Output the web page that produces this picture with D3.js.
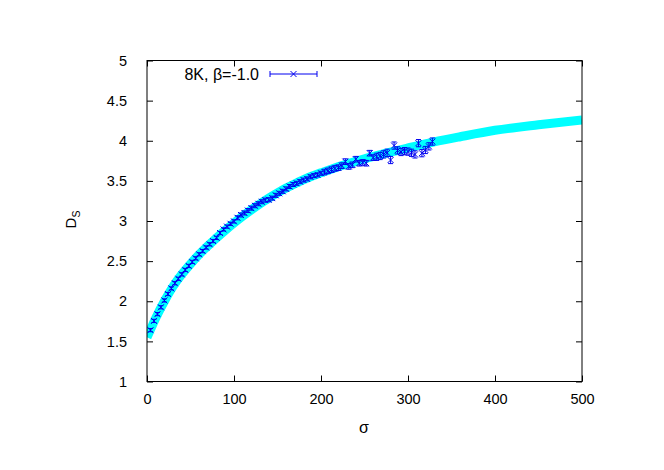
<!DOCTYPE html>
<html>
<head>
<meta charset="utf-8">
<script src="https://cdn.jsdelivr.net/npm/d3@7/dist/d3.min.js"></script>
<style>
  body { margin: 0; background: #fff; }
  text { font-family: "Liberation Sans", Arial, sans-serif; }
</style>
</head>
<body>
<svg id="chart" width="664" height="470"></svg>
<script>
// ---- data ----
const sigma = [4,8,12,16,20,24,28,32,36,40,44,48,52,56,60,64,68,72,76,80,
  84,88,92,96,100,104,108,112,116,120,124,128,132,136,140,144,148,152,156,160,
  164,168,172,176,180,184,188,192,196,200,204,208,212,216,220,224,228,232,236,240,
  244,248,252,256,260,264,268,272,276,280,284,288,292,296,300,304,308,312,316,320,324,328];
const dsValues = [1.64,1.755,1.84,1.925,2.01,2.09,2.16,2.225,2.28,2.335,2.39,2.44,2.49,2.535,2.585,2.625,2.67,2.71,2.75,2.79,
  2.85,2.895,2.93,2.965,2.995,3.04,3.075,3.10,3.13,3.16,3.19,3.215,3.24,3.26,3.265,3.285,3.32,3.345,3.37,3.40,
  3.43,3.455,3.47,3.49,3.51,3.525,3.55,3.565,3.575,3.595,3.61,3.625,3.64,3.655,3.665,3.69,3.74,3.68,3.70,3.77,
  3.72,3.73,3.72,3.845,3.79,3.80,3.81,3.83,3.85,3.76,3.94,3.88,3.86,3.87,3.865,3.85,3.83,3.97,3.845,3.885,3.93,3.99];
const dsErrors = [0.02,0.02,0.02,0.02,0.02,0.02,0.02,0.02,0.02,0.02,0.02,0.02,0.02,0.02,0.02,0.02,0.02,0.02,0.02,0.02,
  0.02,0.02,0.02,0.02,0.02,0.025,0.025,0.025,0.025,0.025,0.025,0.025,0.025,0.025,0.025,0.025,0.025,0.025,0.025,0.025,
  0.025,0.025,0.025,0.025,0.025,0.025,0.025,0.025,0.025,0.025,0.035,0.035,0.035,0.035,0.035,0.035,0.035,0.035,0.035,0.035,
  0.035,0.035,0.035,0.035,0.035,0.045,0.045,0.045,0.045,0.045,0.045,0.045,0.045,0.045,0.045,0.045,0.045,0.045,0.045,0.045,0.045,0.045];
// fit curve
const fitSigma = [0,5,10,20,30,40,50,60,70,80,90,100,110,120,130,140,150,160,170,180,190,200,225,250,275,300,330,360,400,450,500];
const fitDs    = [1.55,1.67,1.79,2.00,2.185,2.335,2.465,2.585,2.69,2.79,2.885,2.975,3.06,3.14,3.215,3.285,3.35,3.41,3.465,3.515,3.56,3.60,3.695,3.775,3.845,3.91,3.985,4.05,4.13,4.20,4.26];
const xTicks = [0,100,200,300,400,500];
const yTicks = [1,1.5,2,2.5,3,3.5,4,4.5,5];
const legendLabel = "8K, \u03B2=-1.0";

// ---- layout ----
const L = 147, R = 582, T = 60.5, B = 381.5;
const svg = d3.select("#chart");
const x = d3.scaleLinear().domain([0, 500]).range([L, R]);
const y = d3.scaleLinear().domain([1, 5]).range([B, T]);

const plot = svg.append("g");
svg.append("defs").append("clipPath").attr("id", "clip")
  .append("rect").attr("x", L).attr("y", T).attr("width", R - L).attr("height", B - T);

// fit curve
const fit = fitSigma.map((s, i) => [s, fitDs[i]]);
plot.append("path")
  .attr("clip-path", "url(#clip)")
  .attr("d", d3.line().x(d => x(d[0])).y(d => y(d[1])).curve(d3.curveMonotoneX)(fit))
  .attr("fill", "none").attr("stroke", "#00ffff").attr("stroke-width", 9);

// data points with error bars
const blue = "#0000f0";
const pts = sigma.map((s, i) => ({s, v: dsValues[i], e: dsErrors[i]}));
const pg = plot.append("g").attr("stroke", blue).attr("stroke-width", 1).attr("fill", "none");
pts.forEach(p => {
  const px = x(p.s), py = y(p.v), y0 = y(p.v - p.e), y1 = y(p.v + p.e);
  pg.append("line").attr("x1", px).attr("x2", px).attr("y1", y0).attr("y2", y1);
  pg.append("line").attr("x1", px - 2.5).attr("x2", px + 2.5).attr("y1", y0).attr("y2", y0);
  pg.append("line").attr("x1", px - 2.5).attr("x2", px + 2.5).attr("y1", y1).attr("y2", y1);
  pg.append("path").attr("d", `M${px-3},${py-3}L${px+3},${py+3}M${px-3},${py+3}L${px+3},${py-3}`);
});

// axes (inward ticks, mirrored)
const fmtY = d => String(d);
const ax = svg.append("g").attr("transform", `translate(0,${B})`)
  .call(d3.axisBottom(x).tickValues(xTicks).tickSize(-6).tickSizeOuter(0).tickPadding(12));
const axT = svg.append("g").attr("transform", `translate(0,${T})`)
  .call(d3.axisTop(x).tickValues(xTicks).tickSize(-6).tickSizeOuter(0).tickFormat(""));
const ay = svg.append("g").attr("transform", `translate(${L},0)`)
  .call(d3.axisLeft(y).tickValues(yTicks).tickSize(-6).tickSizeOuter(0).tickPadding(20).tickFormat(fmtY));
const ayR = svg.append("g").attr("transform", `translate(${R},0)`)
  .call(d3.axisRight(y).tickValues(yTicks).tickSize(-6).tickSizeOuter(0).tickFormat(""));
[ax, axT, ay, ayR].forEach(g => {
  g.select(".domain").remove();
  g.selectAll(".tick line").attr("stroke", "#000");
  g.selectAll("text").attr("font-size", 14.5).attr("fill", "#000")
    .attr("font-family", "'Liberation Sans', Arial, sans-serif");
});
ax.selectAll("text").attr("dy", "0.71em");

svg.append("rect").attr("x", L).attr("y", T).attr("width", R - L).attr("height", B - T)
  .attr("fill", "none").attr("stroke", "#000").attr("stroke-width", 1);

// axis titles
svg.append("text").attr("x", 364).attr("y", 433).attr("text-anchor", "middle")
  .attr("font-size", 16).text("\u03C3");
const yt = svg.append("text").attr("transform", "translate(76,219.5) rotate(-90)")
  .attr("text-anchor", "middle").attr("font-size", 15);
yt.append("tspan").text("D");
yt.append("tspan").attr("font-size", 10.5).attr("dy", 4).text("S");

// legend
svg.append("text").attr("x", 259).attr("y", 79.5).attr("text-anchor", "end")
  .attr("font-size", 16).text(legendLabel);
const lg = svg.append("g").attr("stroke", blue).attr("stroke-width", 1);
lg.append("line").attr("x1", 270).attr("x2", 317).attr("y1", 74).attr("y2", 74);
lg.append("line").attr("x1", 270).attr("x2", 270).attr("y1", 71).attr("y2", 77);
lg.append("line").attr("x1", 317).attr("x2", 317).attr("y1", 71).attr("y2", 77);
lg.append("path").attr("fill", "none").attr("d", "M290.5,71L296.5,77M290.5,77L296.5,71");
</script>
</body>
</html>
